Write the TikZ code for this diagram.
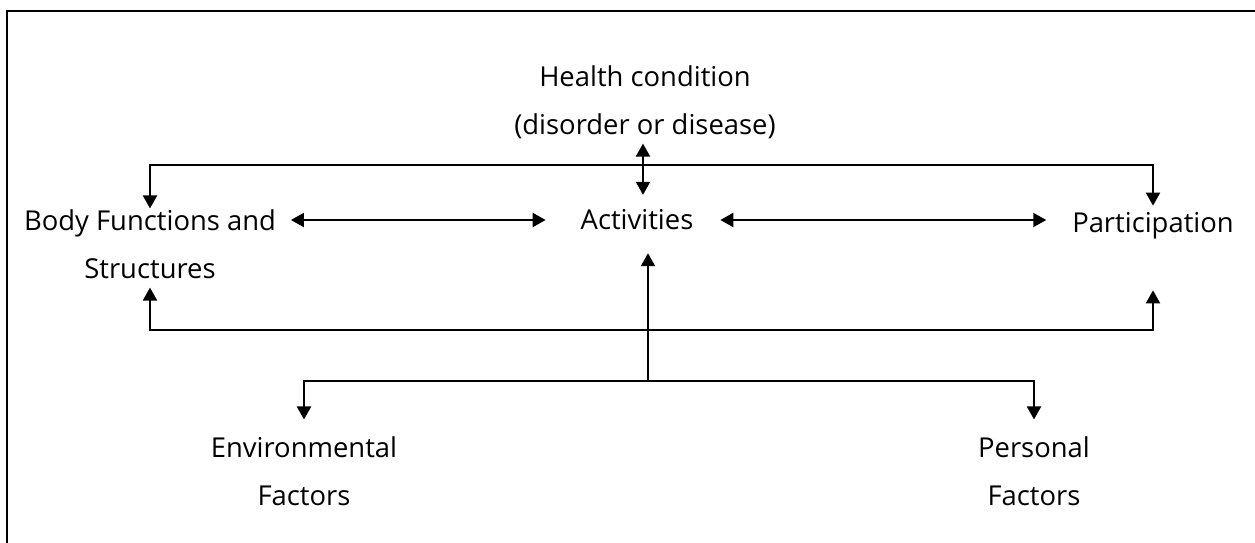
\documentclass[tikz,border=0pt]{standalone}
\usepackage{fontspec}
\usetikzlibrary{arrows.meta}
\newfontfamily\icffont{Open Sans}
\tikzset{icf/.style={x=.5pt,y=-.5pt,line width=1pt,font=\icffont\fontsize{13.7}{24}\selectfont},
  lbl/.style={align=center,inner sep=0pt},
  tip/.style={-{Triangle[length=6.5pt,width=7pt]}},
  both/.style={{Triangle[length=6.5pt,width=7pt]}-{Triangle[length=6.5pt,width=7pt]}}}

\begin{document}
\begin{tikzpicture}[icf]
  \useasboundingbox (0,0) rectangle (1255,542);
  \clip (0,0) rectangle (1255,542);
  \draw[line width=1.2pt] (7,560)--(7,11)--(1270,11);
  % the six boxes of the model
  \node[lbl] (health) at (645,102){Health condition\\(disorder or disease)};
  \node[lbl] (body) at (150,244){Body Functions and\\Structures};
  \node[lbl] (act) at (637,220){Activities};
  \node[lbl] (part) at (1153,226){Participation};
  \node[lbl] (env) at (304,471){Environmental\\Factors};
  \node[lbl] (pers) at (1034,471){Personal\\Factors};
  % bus lines
  \coordinate (hbus) at (643,165);
  \coordinate (lbus) at (650,330);
  \coordinate (fbus) at (648,381);
  \draw[both,shorten <=2pt,shorten >=7pt] (health.south -| hbus)--(act.north -| hbus);
  \draw[both,shorten <=7pt,shorten >=17pt] (body.east |- act)--(act.west);
  \draw[both,shorten <=13pt,shorten >=12.5pt] (act.east)--(part.west |- act);
  \draw[both,shorten >=3pt] (body.north) |- (hbus) -| (part.north);
  \draw[both,shorten <=4pt,shorten >=25pt] (body.south) |- (lbus) -| (part.south);
  \draw[tip,shorten >=11pt] (fbus)--(fbus |- act.south);
  \draw[both,shorten <=8pt,shorten >=8pt] (env.north) |- (fbus) -| (pers.north);
\end{tikzpicture}
\end{document}
